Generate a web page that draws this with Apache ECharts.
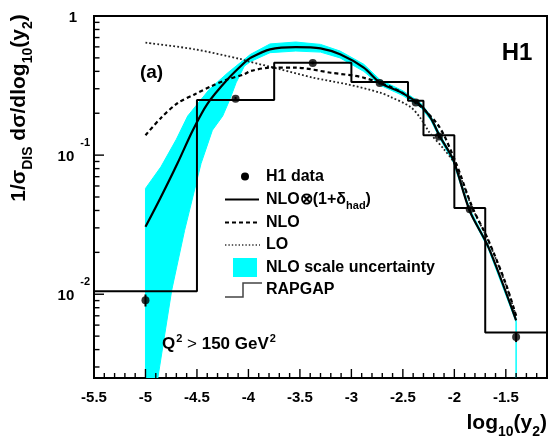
<!DOCTYPE html>
<html>
<head>
<meta charset="utf-8">
<script src="https://cdn.jsdelivr.net/npm/echarts@6.0.0/dist/echarts.min.js"></script>
<style>
html,body{margin:0;padding:0;background:#fff;}
#chart{width:554px;height:436px;}
</style>
</head>
<body>
<div id="chart"></div>
<script>
const FONT = "'Liberation Sans', Arial, Helvetica, sans-serif";

// ---- data ----
const binEdges = [-5.5, -4.5, -3.75, -3.0, -2.45, -2.3, -2.0, -1.7, -1.1];
const rapgap   = [0.0105, 0.249, 0.461, 0.336, 0.246, 0.139, 0.0416, 0.0053];

const dataX   = [-5.0, -4.125, -3.375, -2.725, -2.375, -2.15, -1.85, -1.4];
const dataY   = [0.00906, 0.254, 0.46, 0.33, 0.239, 0.136, 0.0408, 0.00493];
const dataErr = [0.0009, 0.008, 0.01, 0.008, 0.006, 0.004, 0.0015, 0.0004];

const nloHadX = [-5.0, -4.85, -4.69, -4.54, -4.40, -4.20, -4.04, -3.98, -3.79, -3.54, -3.30, -3.11, -2.88, -2.72, -2.50, -2.33, -2.23, -2.14, -2.01, -1.85, -1.67, -1.40];
const nloHadY = [0.0305, 0.050, 0.087, 0.151, 0.233, 0.352, 0.461, 0.50, 0.576, 0.598, 0.586, 0.53, 0.425, 0.331, 0.278, 0.229, 0.185, 0.136, 0.092, 0.0396, 0.0219, 0.0065];

const nloX = [-5.0, -4.85, -4.69, -4.52, -4.36, -4.20, -4.04, -3.98, -3.79, -3.54, -3.20, -2.88, -2.50, -2.17, -1.99, -1.83, -1.67, -1.50, -1.40];
const nloY = [0.139, 0.185, 0.236, 0.274, 0.313, 0.351, 0.381, 0.402, 0.425, 0.425, 0.391, 0.36, 0.279, 0.169, 0.090, 0.0430, 0.0245, 0.0119, 0.0070];

const loX = [-5.0, -4.52, -4.07, -4.01, -3.69, -3.37, -3.04, -2.72, -2.62, -2.43, -2.33, -2.24, -2.10, -1.99, -1.83, -1.67, -1.50, -1.40];
const loY = [0.643, 0.576, 0.489, 0.474, 0.414, 0.36, 0.323, 0.281, 0.262, 0.223, 0.185, 0.145, 0.11, 0.085, 0.0425, 0.0242, 0.0117, 0.0069];

const bandUpX = [-5.0, -4.85, -4.70, -4.59, -4.38, -4.20, -4.06, -3.98, -3.79, -3.54, -3.30, -3.11, -2.88, -2.72, -2.50, -2.33, -2.23, -2.14, -2.01, -1.85, -1.67, -1.40];
const bandUpY = [0.0576, 0.0824, 0.13, 0.191, 0.297, 0.391, 0.474, 0.53, 0.63, 0.65, 0.625, 0.56, 0.45, 0.347, 0.29, 0.238, 0.192, 0.141, 0.095, 0.041, 0.0226, 0.0067];
const bandLoX = [-5.0, -4.88, -4.745, -4.62, -4.46, -4.35, -4.25, -4.18, -4.12, -4.04, -3.98, -3.79, -3.54, -3.30, -3.11, -2.88, -2.72, -2.50, -2.33, -2.23, -2.14, -2.01, -1.85, -1.67, -1.40, -1.40];
const bandLoY = [0.0025, 0.0025, 0.0107, 0.0288, 0.0871, 0.151, 0.191, 0.252, 0.331, 0.436, 0.47, 0.545, 0.56, 0.55, 0.50, 0.40, 0.318, 0.268, 0.222, 0.179, 0.131, 0.089, 0.0385, 0.0212, 0.0063, 0.0025];

const xMin = -5.5, xMax = -1.1, yMin = 0.0025, yMax = 1;

// ---- derived structures ----
const pairs = (xs, ys) => xs.map((x, i) => [x, ys[i]]);
const histData = [];
rapgap.forEach((v, i) => { histData.push([binEdges[i], v]); histData.push([binEdges[i + 1], v]); });

const yTicks = [];
for (let e = -3; e <= 0; e++) {
  for (let m = 1; m <= 9; m++) {
    const v = m * Math.pow(10, e);
    if (v >= yMin * 0.999 && v <= yMax * 1.001) yTicks.push([xMin, v, m === 1 ? 1 : 0]);
  }
}
const xTicks = [];
for (let k = 0; k <= 44; k++) {
  const v = Math.round((xMin + k * 0.1) * 10) / 10;
  xTicks.push([v, yMin, (k % 5 === 0) ? 1 : 0]);
}

const chart = echarts.init(document.getElementById('chart'), null, {renderer: 'canvas'});

const option = {
  animation: false,
  backgroundColor: '#fff',
  grid: {left: 94, right: 7, top: 16, bottom: 58, show: true, borderColor: '#000', borderWidth: 2, backgroundColor: 'transparent'},
  xAxis: {
    type: 'value', min: xMin, max: xMax, interval: 0.5,
    axisLine: {show: false}, axisTick: {show: false}, splitLine: {show: false},
    axisLabel: {showMaxLabel: false, fontFamily: FONT, fontWeight: 'bold', fontSize: 15, color: '#000', margin: 12,
      formatter: v => String(Math.round(v * 10) / 10)}
  },
  yAxis: {
    type: 'log', logBase: 10, min: yMin, max: yMax,
    axisLine: {show: false}, axisTick: {show: false}, splitLine: {show: false},
    axisLabel: {
      margin: 4, color: '#000', padding: [0, 0, 9, 0],
      formatter: v => {
        const l = Math.log10(v), e = Math.round(l);
        if (Math.abs(l - e) > 1e-6) return '';
        if (e === 0) return '{b|1}{sp|}';
        return '{b|10}{s|' + e + '}';
      },
      rich: {
        b: {fontFamily: FONT, fontWeight: 'bold', fontSize: 15, color: '#000', padding: [12, 0, 0, 0], verticalAlign: 'bottom'},
        s: {fontFamily: FONT, fontWeight: 'bold', fontSize: 11, color: '#000', padding: [0, 0, 0, 6], verticalAlign: 'top'},
        sp: {width: 13}
      }
    }
  },
  series: [
    {
      type: 'custom', name: 'band', clip: true, z: 1,
      data: [[-3, 0.1]],
      renderItem: (params, api) => {
        const pts = [];
        for (let i = 0; i < bandUpX.length; i++) pts.push(api.coord([bandUpX[i], bandUpY[i]]));
        for (let i = bandLoX.length - 1; i >= 0; i--) pts.push(api.coord([bandLoX[i], bandLoY[i]]));
        return {type: 'polygon', shape: {points: pts}, style: {fill: '#00ffff', stroke: '#00ffff', lineWidth: 1}};
      }
    },
    {
      type: 'line', name: 'RAPGAP', data: histData, symbol: 'none', showSymbol: false, z: 3,
      lineStyle: {color: '#000', width: 2}
    },
    {
      type: 'line', name: 'LO', data: pairs(loX, loY), symbol: 'none', showSymbol: false, smooth: 0.3, z: 3,
      lineStyle: {color: '#222', width: 1.8, type: [1.8, 2.2]}
    },
    {
      type: 'line', name: 'NLO', data: pairs(nloX, nloY), symbol: 'none', showSymbol: false, smooth: 0.3, z: 3,
      lineStyle: {color: '#000', width: 2.2, type: [4, 3]}
    },
    {
      type: 'line', name: 'NLOhad', data: pairs(nloHadX, nloHadY), symbol: 'none', showSymbol: false, smooth: 0.3, z: 4,
      lineStyle: {color: '#000', width: 2.2}
    },
    {
      type: 'custom', name: 'errors', z: 5,
      data: dataX.map((x, i) => [x, dataY[i], dataErr[i]]),
      renderItem: (params, api) => {
        const x = api.value(0), y = api.value(1), e = api.value(2);
        const p1 = api.coord([x, y - e]), p2 = api.coord([x, y + e]);
        return {type: 'line', shape: {x1: p1[0], y1: p1[1], x2: p2[0], y2: p2[1]}, style: {stroke: '#000', lineWidth: 2}};
      }
    },
    {
      type: 'scatter', name: 'H1 data', data: pairs(dataX, dataY), symbol: 'circle', symbolSize: 8, z: 6,
      itemStyle: {color: '#000'}
    },
    {
      type: 'custom', name: 'yticks', z: 7, silent: true,
      data: yTicks,
      renderItem: (params, api) => {
        const p = api.coord([api.value(0), api.value(1)]);
        const len = api.value(2) ? 10 : 5.5;
        return {type: 'line', shape: {x1: p[0], y1: p[1], x2: p[0] + len, y2: p[1]}, style: {stroke: '#000', lineWidth: 1.4}};
      }
    },
    {
      type: 'custom', name: 'xticks', z: 7, silent: true,
      data: xTicks,
      renderItem: (params, api) => {
        const p = api.coord([api.value(0), api.value(1)]);
        const len = api.value(2) ? 9 : 5;
        return {type: 'line', shape: {x1: p[0], y1: p[1], x2: p[0], y2: p[1] - len}, style: {stroke: '#000', lineWidth: 1.4}};
      }
    }
  ],
  graphic: [
    // axis titles
    {type: 'text', x: 22, y: 108, rotation: Math.PI / 2, z: 10,
      style: {
        text: '{m|1/σ}{s|DIS}{m| dσ/dlog}{s|10}{m|(y}{s|2}{m|)}',
        align: 'center', verticalAlign: 'middle',
        rich: {
          m: {fontFamily: FONT, fontWeight: 'bold', fontSize: 21, color: '#000', padding: [0, 0, 6, 0], verticalAlign: 'bottom'},
          s: {fontFamily: FONT, fontWeight: 'bold', fontSize: 14, color: '#000', verticalAlign: 'bottom'}
        }
      }
    },
    {type: 'text', x: 547, y: 426, z: 10,
      style: {
        text: '{m|log}{s|10}{m|(y}{s|2}{m|)}',
        align: 'right', verticalAlign: 'middle',
        rich: {
          m: {fontFamily: FONT, fontWeight: 'bold', fontSize: 21, color: '#000', padding: [0, 0, 6, 0], verticalAlign: 'bottom'},
          s: {fontFamily: FONT, fontWeight: 'bold', fontSize: 14, color: '#000', verticalAlign: 'bottom'}
        }
      }
    },
    // annotations
    {type: 'text', x: 151.5, y: 72.5, z: 10, style: {text: '(a)', font: 'bold 19px ' + FONT, fill: '#000', align: 'center', verticalAlign: 'middle'}},
    {type: 'text', x: 517, y: 53, z: 10, style: {text: 'H1', font: 'bold 24px ' + FONT, fill: '#000', align: 'center', verticalAlign: 'middle'}},
    {type: 'text', x: 162, y: 343, z: 10,
      style: {
        text: '{m|Q}{p|2}{n| > }{m|150 GeV}{p|2}',
        align: 'left', verticalAlign: 'middle',
        rich: {
          m: {fontFamily: FONT, fontWeight: 'bold', fontSize: 17, color: '#000', verticalAlign: 'bottom'},
          n: {fontFamily: FONT, fontWeight: 'normal', fontSize: 17, color: '#000', verticalAlign: 'bottom'},
          p: {fontFamily: FONT, fontWeight: 'bold', fontSize: 11, color: '#000', padding: [0, 0, 8, 1], verticalAlign: 'bottom'}
        }
      }
    },
    // legend symbols
    {type: 'circle', z: 10, shape: {cx: 245, cy: 176.5, r: 4}, style: {fill: '#000'}},
    {type: 'line', z: 10, shape: {x1: 225, y1: 199.5, x2: 259, y2: 199.5}, style: {stroke: '#000', lineWidth: 2}},
    {type: 'line', z: 10, shape: {x1: 225, y1: 222.5, x2: 260, y2: 222.5}, style: {stroke: '#000', lineWidth: 2, lineDash: [4, 3]}},
    {type: 'line', z: 10, shape: {x1: 225, y1: 245, x2: 260, y2: 245}, style: {stroke: '#333', lineWidth: 1.4, lineDash: [1.4, 2]}},
    {type: 'rect', z: 10, shape: {x: 233, y: 258, width: 24, height: 19}, style: {fill: '#00ffff'}},
    {type: 'polyline', z: 10, shape: {points: [[225, 297], [243, 297], [243, 283], [262, 283]]}, style: {stroke: '#444', lineWidth: 1.5, fill: null}},
    // legend texts
    {type: 'text', x: 266, y: 176.5, z: 10, style: {text: 'H1 data', font: 'bold 16px ' + FONT, fill: '#000', verticalAlign: 'middle'}},
    {type: 'text', x: 266, y: 201.5, z: 10,
      style: {
        text: '{m|NLO⊗(1+δ}{s|had}{m|)}', verticalAlign: 'middle',
        rich: {
          m: {fontFamily: FONT, fontWeight: 'bold', fontSize: 16, color: '#000', padding: [0, 0, 4, 0], verticalAlign: 'bottom'},
          s: {fontFamily: FONT, fontWeight: 'bold', fontSize: 11, color: '#000', verticalAlign: 'bottom'}
        }
      }
    },
    {type: 'text', x: 266, y: 222.5, z: 10, style: {text: 'NLO', font: 'bold 16px ' + FONT, fill: '#000', verticalAlign: 'middle'}},
    {type: 'text', x: 266, y: 245, z: 10, style: {text: 'LO', font: 'bold 16px ' + FONT, fill: '#000', verticalAlign: 'middle'}},
    {type: 'text', x: 266, y: 268, z: 10, style: {text: 'NLO scale uncertainty', font: 'bold 16px ' + FONT, fill: '#000', verticalAlign: 'middle'}},
    {type: 'text', x: 266, y: 290, z: 10, style: {text: 'RAPGAP', font: 'bold 16px ' + FONT, fill: '#000', verticalAlign: 'middle'}}
  ]
};
chart.setOption(option);
</script>
</body>
</html>
